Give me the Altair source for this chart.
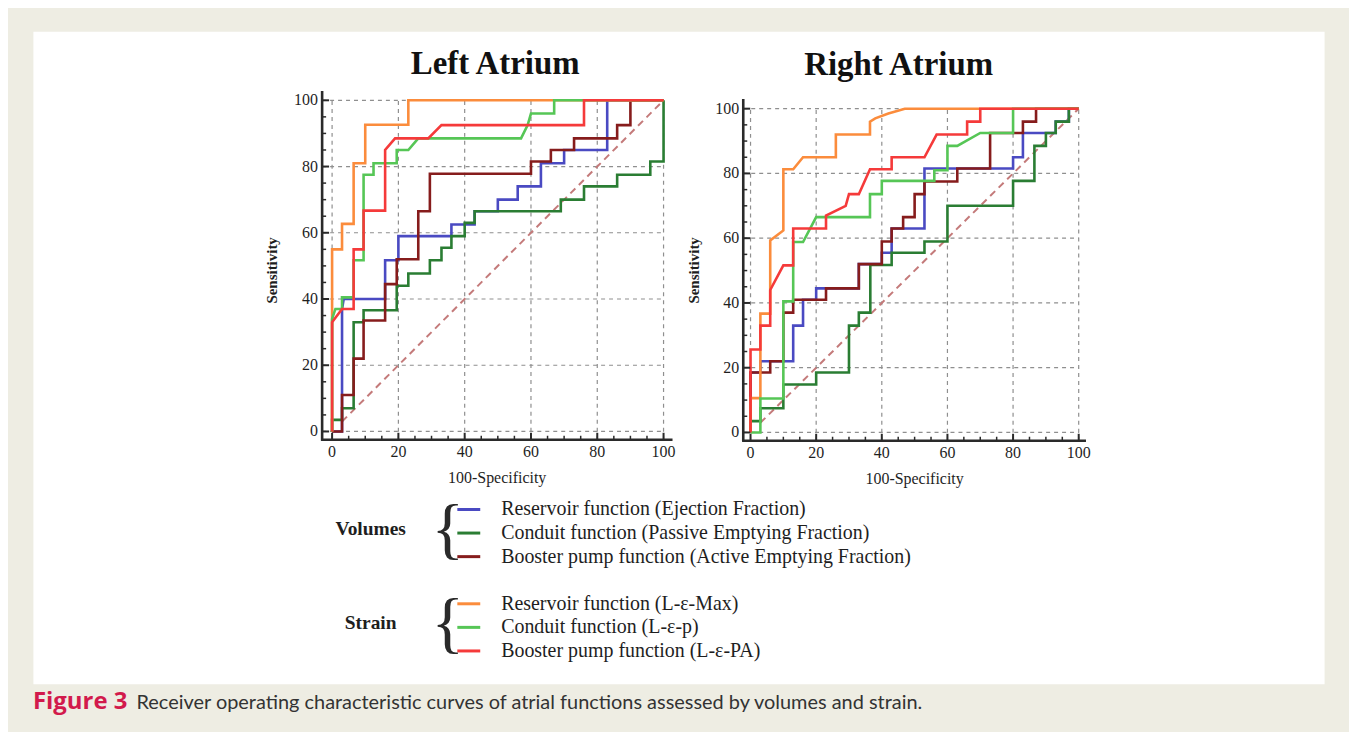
import altair as alt
import pandas as pd

# ---------------- data ----------------
SERIES = [
    "Reservoir function (Ejection Fraction)",
    "Conduit function (Passive Emptying Fraction)",
    "Booster pump function (Active Emptying Fraction)",
    "Reservoir function (L-\u03b5-Max)",
    "Conduit function (L-\u03b5-p)",
    "Booster pump function (L-\u03b5-PA)",
]
COLORS = ["#4a4ac2", "#2a7d33", "#861c1c", "#fb8c3c", "#56c656", "#f53a3a"]
GROUPS = ["Volumes", "Strain"]
PANEL_TITLES = ["Left Atrium", "Right Atrium"]
X_TITLE = "100-Specificity"
Y_TITLE = "Sensitivity"
MAJOR_TICKS = [0, 20, 40, 60, 80, 100]
MINOR_TICKS = [5, 10, 15, 25, 30, 35, 45, 50, 55, 65, 70, 75, 85, 90, 95]
DIAG_X = [3, 100]
DIAG_Y = [3, 100]
CAPTION_LABEL = "Figure 3"
CAPTION_TEXT = "Receiver operating characteristic curves of atrial functions assessed by volumes and strain."

# Left atrium
LA_EF_X = [0, 3, 3, 3.5, 16, 16, 20, 20, 36, 36, 43, 43, 50, 50, 56, 56, 63, 63, 70, 70, 83, 83, 100]
LA_EF_Y = [0, 0, 37, 40, 40, 51.7, 51.7, 59, 59, 62.5, 62.5, 66.5, 66.5, 70, 70, 74, 74, 81, 81, 85, 85, 100, 100]
LA_PEF_X = [0, 0, 3, 3, 6.5, 6.5, 9.5, 9.5, 19.5, 19.5, 23, 23, 29.5, 29.5, 33, 33, 36, 36, 40, 40, 43, 43, 69, 69, 76, 76, 86, 86, 96, 96, 100, 100]
LA_PEF_Y = [0, 3.5, 3.5, 7, 7, 33, 33, 36.6, 36.6, 44, 44, 47.7, 47.7, 51.7, 51.7, 55.5, 55.5, 59, 59, 63, 63, 66.5, 66.5, 70, 70, 74, 74, 77.5, 77.5, 81.5, 81.5, 100]
LA_AEF_X = [0, 3, 3, 6.5, 6.5, 9.5, 9.5, 16, 16, 19.5, 19.5, 26, 26, 29.5, 29.5, 60, 60, 66, 66, 73, 73, 86, 86, 90, 90, 100]
LA_AEF_Y = [0, 0, 11, 11, 22, 22, 33.5, 33.5, 44.5, 44.5, 52, 52, 66.5, 66.5, 77.8, 77.8, 81.5, 81.5, 85, 85, 88.5, 88.5, 92.5, 92.5, 100, 100]
LA_MAX_X = [0, 0, 3, 3, 6.5, 6.5, 10, 10, 23, 23, 100]
LA_MAX_Y = [0, 55, 55, 62.7, 62.7, 81, 81, 92.6, 92.6, 100, 100]
LA_P_X = [0, 0, 1, 3, 3, 6.5, 6.5, 9.5, 9.5, 12.5, 12.5, 19.5, 19.5, 23, 26, 57, 59, 60, 67, 67, 100]
LA_P_Y = [0, 34, 37, 37, 40.5, 40.5, 51.7, 51.7, 77.5, 77.5, 81, 81, 85, 85, 88.5, 88.5, 92.5, 96, 96, 100, 100]
LA_PA_X = [0, 0, 3, 6.5, 6.5, 9.5, 9.5, 16, 16, 19, 29, 33, 76, 76, 100]
LA_PA_Y = [0, 33, 37, 37, 55, 55, 66.7, 66.7, 85, 88.5, 88.5, 92.5, 92.5, 100, 100]

# Right atrium
RA_EF_X = [0, 0, 3, 3, 13, 13, 16, 16, 20, 20, 33, 33, 40, 40, 43, 43, 53, 53, 80, 80, 83, 83, 93, 93, 97, 97, 100]
RA_EF_Y = [0, 18.5, 18.5, 22, 22, 33, 33, 41, 41, 44.5, 44.5, 52, 52, 55.5, 55.5, 63, 63, 81.5, 81.5, 85, 85, 92.5, 92.5, 96, 96, 100, 100]
RA_PEF_X = [0, 0, 3, 3, 10, 10, 20, 20, 30, 30, 33, 33, 36.5, 36.5, 43, 43, 53, 53, 60, 60, 80, 80, 86.5, 86.5, 90, 90, 93, 93, 97, 97, 100]
RA_PEF_Y = [0, 3.5, 3.5, 7.5, 7.5, 14.8, 14.8, 18.5, 18.5, 33, 33, 37, 37, 51.7, 51.7, 55.5, 55.5, 59, 59, 70, 70, 77.7, 77.7, 88.5, 88.5, 92.5, 92.5, 96, 96, 100, 100]
RA_AEF_X = [0, 0, 6, 6, 10, 10, 13, 13, 23, 23, 33, 33, 40, 40, 43, 43, 46.5, 46.5, 50, 50, 53, 53, 63, 63, 73, 73, 83, 83, 87, 87, 100]
RA_AEF_Y = [0, 18.5, 18.5, 22, 22, 37, 37, 41, 41, 44.5, 44.5, 52, 52, 59, 59, 63, 63, 66.5, 66.5, 73.6, 73.6, 77.5, 77.5, 81.5, 81.5, 92.5, 92.5, 96, 96, 100, 100]
RA_MAX_X = [0, 0, 3, 3, 6, 6, 10, 10, 13, 16, 26, 26, 36.4, 36.4, 38, 42, 47, 100]
RA_MAX_Y = [0, 10.6, 10.6, 36.7, 36.7, 59.3, 62.4, 81.3, 81.3, 85, 85, 92, 92, 96, 97, 98.5, 100, 100]
RA_P_X = [0, 3, 3, 10, 10, 13, 13, 16, 20, 36.4, 36.4, 40, 40, 56, 56, 60, 60, 63, 70, 80, 80, 100]
RA_P_Y = [0, 0, 10.5, 10.5, 40.5, 40.5, 58.8, 58.8, 66.5, 66.5, 73.6, 73.6, 77.7, 77.7, 81, 81, 88.5, 88.5, 92.5, 92.5, 100, 100]
RA_PA_X = [0, 0, 3, 3, 6, 6, 10, 13, 13, 23, 23, 29, 30, 33, 36.4, 43, 43, 53, 56.7, 66, 66, 70, 70, 100]
RA_PA_Y = [0, 25.6, 25.6, 33, 33, 44, 51.6, 51.6, 63, 63, 67, 70, 73.6, 73.6, 81.3, 81.3, 85, 85, 92, 92, 96, 96, 100, 100]

# ---------------- layout / style ----------------
W, H = 1296, 655
SERIF = "Liberation Serif, Times New Roman, serif"
CAPFONT = "Lato, Roboto, sans-serif"
BG = "#eeede3"
INK = "#1e1e1e"

LEFT = dict(xr=[300.3, 633.0], yr=[401.7, 69.3], ax_x=290.3, ax_y=410.0, ax_x_end=642.0,
            ax_y_top=60.0, ylab_r=286, xlab_y=427, sens_x=240, sens_y=240,
            spec_x=466, spec_y=453, title_x=464, title_y=43)
RIGHT = dict(xr=[720.3, 1049.7], yr=[402.7, 77.7], ax_x=713.0, ax_y=411.0, ax_x_end=1057.0,
             ax_y_top=68.0, ylab_r=709, xlab_y=428, sens_x=664, sens_y=240,
             spec_x=885, spec_y=454, title_x=869, title_y=44)

color_scale = alt.Scale(domain=SERIES, range=COLORS)


def curves_df(xs_list, ys_list):
    rows = []
    for name, xs, ys in zip(SERIES, xs_list, ys_list):
        for i, (x, y) in enumerate(zip(xs, ys)):
            rows.append({"series": name, "i": i, "x": x, "y": y})
    return pd.DataFrame(rows)


def one(text):
    return pd.DataFrame({"t": [text]})


def panel_layers(df, g, title):
    xs = alt.Scale(domain=[0, 100], range=g["xr"], nice=False, zero=False)
    ys = alt.Scale(domain=[0, 100], range=g["yr"], nice=False, zero=False)
    major = pd.DataFrame({"t": MAJOR_TICKS})
    minor = pd.DataFrame({"t": MINOR_TICKS})
    TX = alt.X("t:Q", scale=xs, axis=None)
    TY = alt.Y("t:Q", scale=ys, axis=None)
    grid = dict(color="#8f8f8f", strokeDash=[4, 4], strokeWidth=1.2)
    layers = [
        alt.Chart(major).mark_rule(**grid).encode(
            x=TX, y=alt.value(g["ax_y"]), y2=alt.value(g["yr"][1])),
        alt.Chart(major).mark_rule(**grid).encode(
            y=TY, x=alt.value(g["ax_x"]), x2=alt.value(g["xr"][1])),
        alt.Chart(pd.DataFrame({"x": DIAG_X, "y": DIAG_Y})).mark_line(
            color="#c47a7a", strokeDash=[7, 5], strokeWidth=2).encode(
            x=alt.X("x:Q", scale=xs, axis=None), y=alt.Y("y:Q", scale=ys, axis=None)),
        alt.Chart(df).mark_line(strokeWidth=2.6).encode(
            x=alt.X("x:Q", scale=xs, axis=None),
            y=alt.Y("y:Q", scale=ys, axis=None),
            color=alt.Color("series:N", scale=color_scale, legend=None),
            order=alt.Order("i:Q")),
        # axis lines
        alt.Chart(major.head(1)).mark_rule(color="#2a2a2a", strokeWidth=2.6).encode(
            x=alt.value(g["ax_x"]), y=alt.value(g["ax_y_top"]), y2=alt.value(g["ax_y"] + 1)),
        alt.Chart(major.head(1)).mark_rule(color="#2a2a2a", strokeWidth=2.6).encode(
            y=alt.value(g["ax_y"]), x=alt.value(g["ax_x"] - 1), x2=alt.value(g["ax_x_end"])),
        # inward ticks
        alt.Chart(major).mark_rule(color="#2a2a2a", strokeWidth=2).encode(
            x=TX, y=alt.value(g["ax_y"]), y2=alt.value(g["ax_y"] - 7)),
        alt.Chart(minor).mark_rule(color="#2a2a2a", strokeWidth=1.5).encode(
            x=TX, y=alt.value(g["ax_y"]), y2=alt.value(g["ax_y"] - 4)),
        alt.Chart(major).mark_rule(color="#2a2a2a", strokeWidth=2).encode(
            y=TY, x=alt.value(g["ax_x"]), x2=alt.value(g["ax_x"] + 7)),
        alt.Chart(minor).mark_rule(color="#2a2a2a", strokeWidth=1.5).encode(
            y=TY, x=alt.value(g["ax_x"]), x2=alt.value(g["ax_x"] + 4)),
        # tick labels
        alt.Chart(major).mark_text(font=SERIF, fontSize=16, align="right", baseline="middle",
                                   color=INK).encode(
            y=TY, x=alt.value(g["ylab_r"]), text="t:Q"),
        alt.Chart(major).mark_text(font=SERIF, fontSize=16, align="center", baseline="alphabetic",
                                   color=INK).encode(
            x=TX, y=alt.value(g["xlab_y"]), text="t:Q"),
        # axis titles
        alt.Chart(one(Y_TITLE)).mark_text(font=SERIF, fontSize=15, fontWeight="bold", angle=270,
                                          align="center", baseline="middle", color=INK).encode(
            text="t:N", x=alt.value(g["sens_x"]), y=alt.value(g["sens_y"])),
        alt.Chart(one(X_TITLE)).mark_text(font=SERIF, fontSize=16, align="center",
                                          baseline="alphabetic", color=INK).encode(
            text="t:N", x=alt.value(g["spec_x"]), y=alt.value(g["spec_y"])),
        # panel title
        alt.Chart(one(title)).mark_text(font=SERIF, fontSize=33, fontWeight="bold", align="center",
                                        baseline="alphabetic", color="#111111").encode(
            text="t:N", x=alt.value(g["title_x"]), y=alt.value(g["title_y"])),
    ]
    return layers


left_df = curves_df([LA_EF_X, LA_PEF_X, LA_AEF_X, LA_MAX_X, LA_P_X, LA_PA_X],
                    [LA_EF_Y, LA_PEF_Y, LA_AEF_Y, LA_MAX_Y, LA_P_Y, LA_PA_Y])
right_df = curves_df([RA_EF_X, RA_PEF_X, RA_AEF_X, RA_MAX_X, RA_P_X, RA_PA_X],
                     [RA_EF_Y, RA_PEF_Y, RA_AEF_Y, RA_MAX_Y, RA_P_Y, RA_PA_Y])

layers = panel_layers(left_df, LEFT, PANEL_TITLES[0]) + panel_layers(right_df, RIGHT, PANEL_TITLES[1])

# ---------------- legend ----------------
LEG_DOMAIN = SERIES[:3] + [" "] + SERIES[3:]
leg_scale = alt.Scale(type="point", domain=LEG_DOMAIN, range=[480, 622], padding=0)
leg_df = pd.DataFrame({"series": SERIES})
grp_df = pd.DataFrame({"group": GROUPS, "anchor": [SERIES[1], SERIES[4]]})
LY = alt.Y("series:N", scale=leg_scale, axis=None)
GY = alt.Y("anchor:N", scale=leg_scale, axis=None)

layers += [
    alt.Chart(leg_df).mark_rule(strokeWidth=3).encode(
        y=LY, x=alt.value(426), x2=alt.value(449),
        color=alt.Color("series:N", scale=color_scale, legend=None)),
    alt.Chart(leg_df).mark_text(font=SERIF, fontSize=20, align="left", baseline="middle",
                                color=INK).encode(
        y=LY, x=alt.value(470), text="series:N"),
    alt.Chart(grp_df).mark_text(font=SERIF, fontSize=19.5, fontWeight="bold", align="center",
                                baseline="middle", dy=-4, color=INK).encode(
        y=GY, x=alt.value(339), text="group:N"),
    alt.Chart(grp_df).mark_text(font=SERIF, fontSize=68, align="left", baseline="alphabetic",
                                dy=18, text="{", color="#2a2a2a").encode(
        y=GY, x=alt.value(400)),
]

# ---------------- caption ----------------
layers += [
    alt.Chart(one(CAPTION_LABEL)).mark_text(font="Open Sans, sans-serif", fontSize=24,
                                            fontWeight="bold", align="left",
                                            baseline="alphabetic", color="#d21a4c").encode(
        text="t:N", x=alt.value(0), y=alt.value(680)),
    alt.Chart(one(CAPTION_TEXT)).mark_text(font=CAPFONT, fontSize=20, align="left",
                                           baseline="alphabetic", color="#333333").encode(
        text="t:N", x=alt.value(104), y=alt.value(680)),
]

chart = alt.layer(*layers).resolve_scale(x="independent", y="independent").properties(
    width=W, height=H,
    padding={"left": 25, "top": 22, "right": 25, "bottom": 47},
    autosize=alt.AutoSizeParams(type="none"),
    background=BG,
).configure_view(fill="white", stroke="transparent")

chart.save("out.html", embed_options={"renderer": "svg", "actions": False})
